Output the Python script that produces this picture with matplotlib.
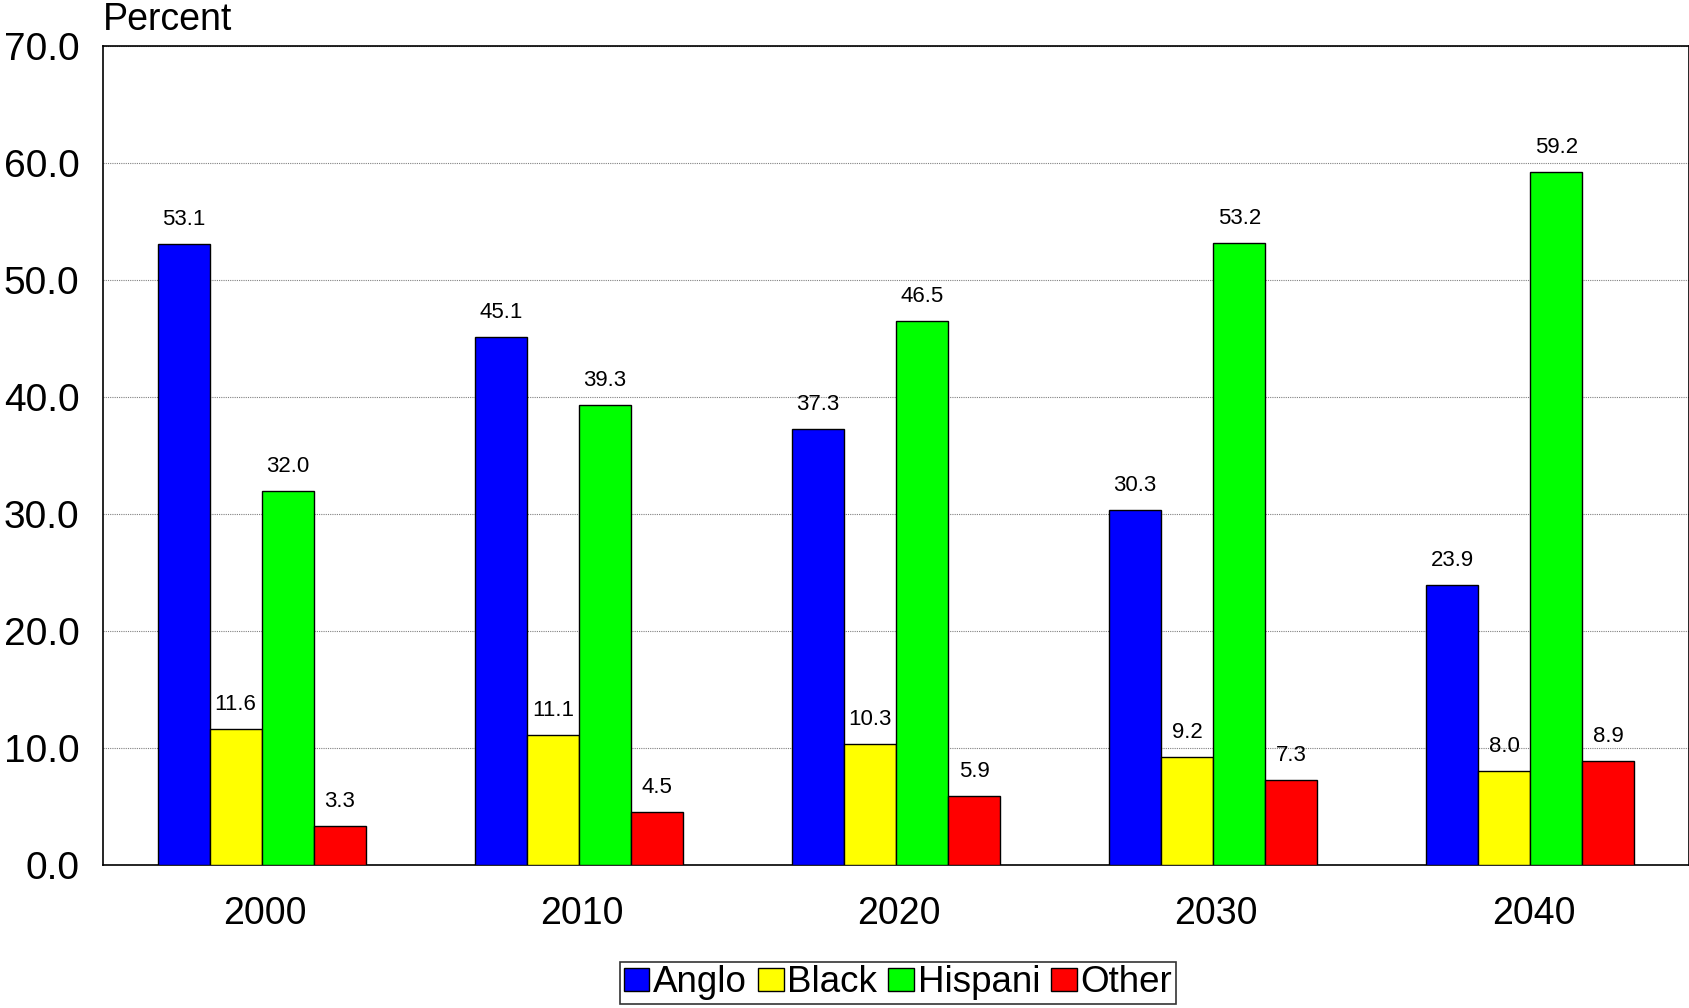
import numpy as np
import matplotlib
matplotlib.use("Agg")
import matplotlib.pyplot as plt

plt.rcParams['font.family'] = ['Liberation Sans', 'DejaVu Sans']

years = ["2000", "2010", "2020", "2030", "2040"]
groups = ["Anglo", "Black", "Hispani", "Other"]
anglo = [53.1, 45.1, 37.3, 30.3, 23.9]
black = [11.6, 11.1, 10.3, 9.2, 8.0]
hispanic = [32.0, 39.3, 46.5, 53.2, 59.2]
other = [3.3, 4.5, 5.9, 7.3, 8.9]
colors = ["#0000ff", "#ffff00", "#00ff00", "#ff0000"]

fig = plt.figure(figsize=(16.9, 10.08), dpi=100)
ax = fig.add_axes([103/1690, 1 - 865/1008, (1689 - 103)/1690, (865 - 46)/1008])

x = np.arange(len(years))
w = 0.164
series = [anglo, black, hispanic, other]
for i, (vals, c, name) in enumerate(zip(series, colors, groups)):
    pos = x + (i - 1.5) * w
    ax.bar(pos, vals, w, color=c, edgecolor="black", linewidth=1, label=name, zorder=3)
    for p, v in zip(pos, vals):
        ax.text(p, v + 1.2, f"{v:.1f}", ha="center", va="bottom", fontsize=16)

ax.set_xlim(-0.5, 4.5)
ax.set_ylim(0, 70)
ax.set_yticks(np.arange(0, 71, 10))
ax.set_yticklabels([f"{t:.1f}" for t in np.arange(0, 71, 10)], fontsize=28)
ax.set_xticks(x + 0.01)
ax.set_xticklabels(years, fontsize=27)
ax.tick_params(axis="y", length=0, pad=17)
ax.tick_params(axis="x", length=0, pad=22)
ax.yaxis.grid(True, color="gray", linestyle=(0, (1, 1)), linewidth=0.8, zorder=0)
for s in ax.spines.values():
    s.set_linewidth(1.2)

fig.text(103/1690, 1 - 20/1008, "Percent", fontsize=27, ha="left", va="center")

leg = fig.legend(loc="center", bbox_to_anchor=(898/1690, 1 - 983/1008), ncol=4, fontsize=26.5,
                 frameon=True, fancybox=False, edgecolor="black", handlelength=0.7,
                 handleheight=0.55, handletextpad=0.1, columnspacing=0.3, borderpad=0.1,
                 borderaxespad=0)
leg.get_frame().set_linewidth(1.2)

plt.savefig("out.png", dpi=100)
